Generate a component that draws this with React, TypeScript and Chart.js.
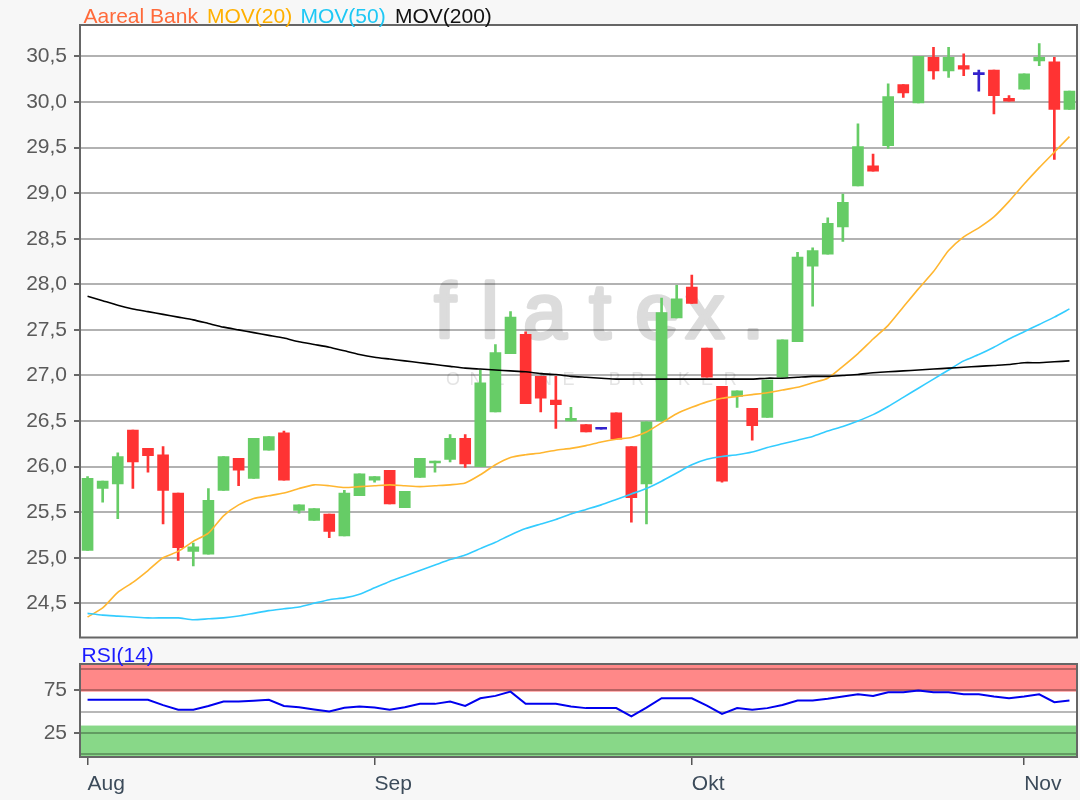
import React, { useEffect, useRef } from 'react';
import { Chart, registerables } from 'chart.js';

Chart.register(...registerables);

// ---------- data ----------
const openPrices = [25.08, 25.76, 25.81, 26.40, 26.20, 26.13, 25.71, 25.07, 25.04, 25.74,
  26.09, 25.87, 26.18, 26.37, 25.52, 25.41, 25.48, 25.24, 25.68, 25.85,
  25.96, 25.55, 25.88, 26.04, 26.08, 26.31, 26.00, 26.60, 27.24, 27.45,
  26.99, 26.73, 26.50, 26.46, 26.41, 26.59, 26.22, 25.81, 26.50, 27.63,
  27.97, 27.30, 26.88, 26.77, 26.64, 26.54, 26.98, 27.37, 28.20, 28.33,
  28.63, 29.08, 29.30, 29.52, 30.19, 29.99, 30.49, 30.34, 30.40, 30.30,
  30.35, 30.04, 30.14, 30.45, 30.44, 29.92];
const highPrices = [25.89, 25.84, 26.15, 26.40, 26.20, 26.22, 25.71, 25.16, 25.76, 26.11,
  26.09, 26.31, 26.33, 26.39, 25.58, 25.54, 25.48, 25.74, 25.92, 25.89,
  25.96, 25.73, 26.09, 26.06, 26.35, 26.35, 27.06, 27.34, 27.70, 27.48,
  26.99, 26.99, 26.65, 26.46, 26.41, 26.59, 26.22, 26.49, 27.85, 27.99,
  28.10, 27.30, 26.88, 26.83, 26.64, 26.95, 27.39, 28.35, 28.40, 28.73,
  28.99, 29.76, 29.43, 30.20, 30.19, 30.50, 30.60, 30.60, 30.53, 30.35,
  30.35, 30.07, 30.31, 30.64, 30.49, 30.12];
const lowPrices = [25.08, 25.61, 25.43, 25.76, 25.94, 25.37, 24.97, 24.91, 25.04, 25.74,
  25.79, 25.87, 26.18, 25.85, 25.49, 25.41, 25.22, 25.24, 25.68, 25.83,
  25.59, 25.55, 25.88, 25.94, 26.05, 25.99, 26.00, 26.60, 27.24, 26.69,
  26.60, 26.42, 26.50, 26.38, 26.41, 26.30, 25.39, 25.37, 26.50, 27.63,
  27.79, 26.98, 25.83, 26.65, 26.29, 26.54, 26.98, 27.37, 27.76, 28.33,
  28.47, 29.08, 29.24, 29.49, 30.05, 29.99, 30.25, 30.27, 30.29, 30.12,
  29.87, 30.01, 30.14, 30.40, 29.37, 29.92];
const closePrices = [25.87, 25.84, 26.11, 26.05, 26.12, 25.74, 25.11, 25.12, 25.63, 26.11,
  25.96, 26.31, 26.33, 25.85, 25.58, 25.54, 25.29, 25.71, 25.92, 25.89,
  25.59, 25.73, 26.09, 26.06, 26.31, 26.03, 26.92, 27.25, 27.64, 26.69,
  26.75, 26.68, 26.53, 26.38, 26.41, 26.30, 25.66, 26.49, 27.69, 27.84,
  27.79, 26.98, 25.84, 26.83, 26.45, 26.95, 27.39, 28.30, 28.37, 28.67,
  28.90, 29.51, 29.24, 30.06, 30.10, 30.50, 30.34, 30.49, 30.36, 30.30,
  30.07, 30.01, 30.31, 30.49, 29.92, 30.12];
const mov20 = [24.35, 24.45, 24.62, 24.73, 24.86, 25.00, 25.07, 25.18, 25.27, 25.46,
  25.58, 25.65, 25.68, 25.71, 25.76, 25.80, 25.79, 25.77, 25.78, 25.79,
  25.80, 25.79, 25.78, 25.79, 25.80, 25.82, 25.91, 26.02, 26.10, 26.13,
  26.15, 26.18, 26.20, 26.23, 26.27, 26.30, 26.32, 26.38, 26.48, 26.58,
  26.65, 26.71, 26.75, 26.77, 26.79, 26.81, 26.84, 26.87, 26.92, 26.97,
  27.10, 27.24, 27.40, 27.55, 27.75, 27.95, 28.14, 28.37, 28.52, 28.62,
  28.74, 28.91, 29.10, 29.28, 29.45, 29.62];
const mov50 = [24.39, 24.37, 24.36, 24.35, 24.34, 24.34, 24.34, 24.32, 24.33, 24.34,
  24.36, 24.39, 24.42, 24.44, 24.46, 24.50, 24.54, 24.56, 24.60, 24.67,
  24.74, 24.80, 24.86, 24.92, 24.98, 25.03, 25.10, 25.17, 25.25, 25.32,
  25.37, 25.42, 25.48, 25.53, 25.58, 25.64, 25.70, 25.76, 25.84, 25.93,
  26.02, 26.08, 26.11, 26.13, 26.16, 26.21, 26.25, 26.29, 26.33, 26.39,
  26.44, 26.50, 26.57, 26.66, 26.76, 26.86, 26.96, 27.06, 27.16, 27.23,
  27.31, 27.40, 27.48, 27.56, 27.64, 27.73];
const mov200 = [27.87, 27.82, 27.77, 27.73, 27.70, 27.67, 27.64, 27.61, 27.57, 27.53,
  27.50, 27.47, 27.44, 27.41, 27.37, 27.34, 27.31, 27.27, 27.23, 27.20,
  27.18, 27.16, 27.14, 27.12, 27.10, 27.08, 27.07, 27.06, 27.05, 27.04,
  27.02, 27.01, 26.99, 26.98, 26.97, 26.96, 26.96, 26.96, 26.96, 26.96,
  26.96, 26.96, 26.96, 26.96, 26.96, 26.97, 26.97, 26.98, 26.99, 26.99,
  27.00, 27.01, 27.03, 27.04, 27.05, 27.06, 27.07, 27.08, 27.09, 27.10,
  27.11, 27.12, 27.14, 27.14, 27.15, 27.16];
const rsi14 = [63.7, 63.7, 63.7, 63.7, 63.7, 57.5, 52.0, 52.0, 56.5, 61.7,
  61.7, 62.8, 63.7, 56.5, 55.0, 52.4, 50.0, 54.5, 55.9, 54.7,
  52.0, 55.0, 59.0, 59.0, 61.7, 56.5, 65.6, 68.4, 73.4, 59.0,
  59.0, 59.0, 56.0, 54.0, 54.0, 54.0, 44.2, 54.5, 65.6, 65.6,
  65.6, 57.0, 47.3, 54.0, 52.0, 54.0, 57.6, 62.9, 62.9, 64.9,
  67.6, 70.3, 68.4, 72.7, 72.7, 74.7, 72.7, 72.7, 70.3, 70.3,
  67.6, 65.6, 67.6, 70.3, 60.9, 62.9];
const tradingDays = closePrices.map((_, i) => String(i + 1));
const monthTickIndex = [0, 19, 40, 62];
const monthTickLabels = ['Aug', 'Sep', 'Okt', 'Nov'];
const rsiGridValues = [0, 25, 50, 75, 100];
const rsiLabelled = [25, 75];
const rsiOverbought = 73.4;
const rsiOversold = 33.5;

// ---------- style ----------
const FONT = '"Liberation Sans", Arial, sans-serif';
const GREEN = '#66cc66';
const RED = '#ff3333';
const BLUE = '#3322cc';
const PAGE_BG = '#f7f7f7';

const candleColors = openPrices.map((o, i) =>
  closePrices[i] > o ? GREEN : closePrices[i] < o ? RED : BLUE);

const noPad = (s: any) => {
  s.paddingTop = 0; s.paddingBottom = 0; s.paddingLeft = 0; s.paddingRight = 0;
};

const panelPlugin = (withWatermark: boolean) => ({
  id: 'panel' + (withWatermark ? 'Main' : 'Rsi'),
  beforeDraw(chart: any) {
    const { ctx, chartArea: a } = chart;
    ctx.save();
    ctx.fillStyle = '#ffffff';
    ctx.fillRect(a.left, a.top, a.right - a.left, a.bottom - a.top);
    if (withWatermark) {
      ctx.fillStyle = '#dcdcdc';
      ctx.strokeStyle = '#dcdcdc';
      ctx.lineWidth = 3.5;
      ctx.lineJoin = 'round';
      ctx.lineCap = 'round';
      ctx.font = '78px "Liberation Sans", Arial, sans-serif';
      ctx.textAlign = 'center';
      ctx.textBaseline = 'alphabetic';
      const letters = ['f', 'l', 'a', 't', 'e', 'x', '.'];
      const xs = [445, 490, 545, 600, 657, 705, 753];
      letters.forEach((ch, i) => {
        ctx.fillText(ch, xs[i], 338);
        ctx.strokeText(ch, xs[i], 338);
      });
      ctx.fillStyle = '#e4e4e4';
      ctx.font = '18px "Liberation Sans", Arial, sans-serif';
      const sub = 'ONLINE BROKER'.split('');
      sub.forEach((ch, i) => ctx.fillText(ch, 453 + i * 23.1, 385));
    } else {
      const y = chart.scales.y;
      const yOB = y.getPixelForValue(rsiOverbought);
      const yOS = y.getPixelForValue(rsiOversold);
      ctx.fillStyle = '#ff8888';
      ctx.fillRect(a.left, a.top, a.right - a.left, yOB - a.top);
      ctx.fillStyle = '#88d888';
      ctx.fillRect(a.left, yOS, a.right - a.left, a.bottom - yOS);
    }
    ctx.restore();
  },
  afterDraw(chart: any) {
    const { ctx, chartArea: a } = chart;
    ctx.save();
    ctx.strokeStyle = '#666666';
    ctx.lineWidth = 2;
    ctx.strokeRect(a.left, a.top, a.right - a.left, a.bottom - a.top);
    ctx.restore();
  },
});

export default function App() {
  const mainRef = useRef<HTMLCanvasElement>(null);
  const rsiRef = useRef<HTMLCanvasElement>(null);

  useEffect(() => {
    const lineDs = (label: string, data: number[], color: string) => ({
      type: 'line' as const,
      label,
      data,
      borderColor: color,
      borderWidth: 1.6,
      pointRadius: 0,
      tension: 0.2,
      order: 0,
    });
    const main = new Chart(mainRef.current!, {
      type: 'bar',
      data: {
        labels: tradingDays,
        datasets: [
          lineDs('MOV(200)', mov200, '#000000') as any,
          lineDs('MOV(50)', mov50, '#33ccff') as any,
          lineDs('MOV(20)', mov20, '#ffb630') as any,
          {
            type: 'bar',
            label: 'body',
            data: openPrices.map((o, i) => [o, closePrices[i]]),
            backgroundColor: candleColors,
            barThickness: 11,
            minBarLength: 2,
            grouped: false,
            order: 1,
          },
          {
            type: 'bar',
            label: 'wick',
            data: lowPrices.map((l, i) => [l, highPrices[i]]),
            backgroundColor: candleColors,
            barThickness: 2,
            grouped: false,
            order: 2,
          },
        ],
      },
      options: {
        animation: false,
        responsive: false,
        maintainAspectRatio: false,
        events: [],
        layout: { padding: { left: 0, right: 3, top: 25, bottom: 2.5 } },
        plugins: { legend: { display: false }, tooltip: { enabled: false } },
        scales: {
          x: { type: 'category', display: false, offset: true, grid: { display: false }, afterFit: noPad },
          y: {
            min: 24.125,
            max: 30.845,
            afterFit: (s: any) => { s.width = 80; noPad(s); },
            border: { display: false },
            grid: { color: 'rgba(0,0,0,0.3)', lineWidth: 2, tickLength: 6, tickColor: '#666666' },
            ticks: {
              stepSize: 0.5,
              includeBounds: false,
              autoSkip: false,
              padding: 7,
              color: '#5a5a5a',
              font: { family: FONT, size: 21 },
              callback: (v: any) => Number(v).toFixed(1).replace('.', ','),
            },
          },
        },
      },
      plugins: [panelPlugin(true)],
    } as any);

    const rsi = new Chart(rsiRef.current!, {
      type: 'line',
      data: {
        labels: tradingDays,
        datasets: [{
          label: 'RSI(14)',
          data: rsi14,
          borderColor: '#0000ee',
          borderWidth: 2,
          pointRadius: 0,
          tension: 0,
        }],
      },
      options: {
        animation: false,
        responsive: false,
        maintainAspectRatio: false,
        events: [],
        layout: { padding: { left: 0, right: 3, top: 24, bottom: 0 } },
        plugins: { legend: { display: false }, tooltip: { enabled: false } },
        scales: {
          x: {
            type: 'category',
            offset: true,
            afterFit: (s: any) => { s.height = 43; noPad(s); },
            afterBuildTicks: (s: any) => { s.ticks = monthTickIndex.map((v) => ({ value: v })); },
            border: { display: false },
            grid: { drawOnChartArea: false, offset: false, tickLength: 8, tickColor: '#555555', lineWidth: 1.5 },
            ticks: {
              autoSkip: false,
              maxRotation: 0,
              align: 'start',
              padding: 7,
              color: '#3c4b5a',
              font: { family: FONT, size: 21 },
              callback: (v: any) => monthTickLabels[monthTickIndex.indexOf(Number(v))],
            },
          },
          y: {
            min: -3.5,
            max: 105.9,
            afterFit: (s: any) => { s.width = 80; noPad(s); },
            afterBuildTicks: (s: any) => { s.ticks = rsiGridValues.map((v) => ({ value: v })); },
            border: { display: false },
            grid: {
              color: 'rgba(0,0,0,0.28)',
              lineWidth: 2,
              tickLength: 6,
              tickColor: (c: any) => (c.tick && rsiLabelled.includes(c.tick.value) ? '#666666' : 'rgba(0,0,0,0)'),
            },
            ticks: {
              autoSkip: false,
              padding: 7,
              color: '#5a5a5a',
              font: { family: FONT, size: 21 },
              callback: (v: any) => (rsiLabelled.includes(Number(v)) ? String(v) : ''),
            },
          },
        },
      },
      plugins: [panelPlugin(false)],
    } as any);

    return () => { main.destroy(); rsi.destroy(); };
  }, []);

  const legendStyle = (left: number, color: string): React.CSSProperties => ({
    position: 'absolute', left, top: 4.8, color, fontSize: 21, lineHeight: '21px', whiteSpace: 'nowrap',
  });

  return (
    <div style={{ position: 'fixed', left: 0, top: 0, width: 1080, height: 800, background: PAGE_BG, overflow: 'hidden', fontFamily: FONT }}>
      <canvas ref={mainRef} width={1080} height={640} style={{ position: 'absolute', left: 0, top: 0 }} />
      <canvas ref={rsiRef} width={1080} height={160} style={{ position: 'absolute', left: 0, top: 640 }} />
      <span style={legendStyle(83.5, '#ff6a3a')}>Aareal Bank</span>
      <span style={legendStyle(207, '#ffb000')}>MOV(20)</span>
      <span style={legendStyle(300.5, '#1ec8f5')}>MOV(50)</span>
      <span style={legendStyle(395, '#111111')}>MOV(200)</span>
      <span style={{ position: 'absolute', left: 81.5, top: 644, color: '#1a1aff', fontSize: 21, lineHeight: '21px', whiteSpace: 'nowrap' }}>RSI(14)</span>
    </div>
  );
}
